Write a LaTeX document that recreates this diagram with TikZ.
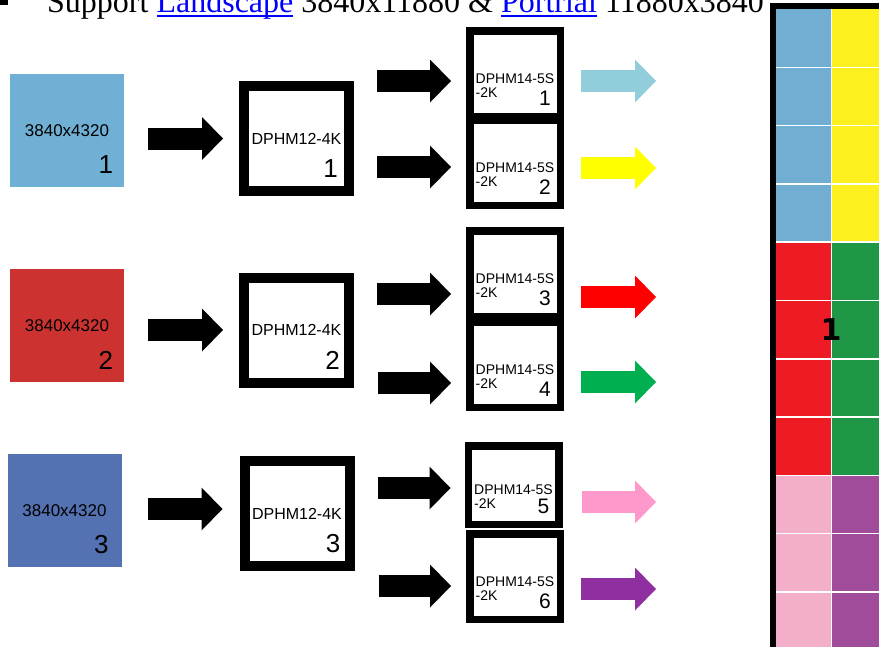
\documentclass[tikz,border=0pt]{standalone}
\usepackage{fontspec}
\setmainfont{Liberation Serif}
\setsansfont{Liberation Sans}
\newfontfamily\panelfont{DejaVu Sans}
\usepackage{tikz}
\usetikzlibrary{arrows.meta,positioning}

\definecolor{srcA}{HTML}{70B0D4}
\definecolor{srcB}{HTML}{CC3330}
\definecolor{srcC}{HTML}{5471B1}
\definecolor{outA}{HTML}{92CDDC}
\definecolor{outB}{HTML}{FFFF00}
\definecolor{outC}{HTML}{FF0000}
\definecolor{outD}{HTML}{00B050}
\definecolor{outE}{HTML}{FF99CC}
\definecolor{outF}{HTML}{9030A0}
\definecolor{cellA}{HTML}{71AED2}
\definecolor{cellB}{HTML}{FEF01E}
\definecolor{cellC}{HTML}{ED1C24}
\definecolor{cellD}{HTML}{209746}
\definecolor{cellE}{HTML}{F3AFCA}
\definecolor{cellF}{HTML}{A14B9B}
\definecolor{linkblue}{HTML}{0000FF}

\newcommand{\weblink}[1]{\textcolor{linkblue}{\setbox0=\hbox{#1}\rlap{\rule[-4.5pt]{\wd0}{1.8pt}}\box0}}

\begin{document}
\begin{tikzpicture}[x=1pt, y=-1pt,
  src/.style={rectangle, minimum width=114pt, minimum height=113pt,
    inner sep=0pt, font=\sffamily\fontsize{17}{17}\selectfont},
  hub/.style={rectangle, draw, line width=10pt, minimum size=105pt,
    inner sep=0pt, fill=white, font=\sffamily\fontsize{16}{16}\selectfont},
  split/.style={rectangle, draw, line width=7.5pt, minimum width=90.5pt,
    minimum height=85.5pt, fill=white},
  splittxt/.style={align=left, inner sep=0pt,
    font=\sffamily\fontsize{14}{14}\selectfont},
  num/.style={inner sep=0pt, font=\sffamily\fontsize{26}{26}\selectfont},
  snum/.style={inner sep=0pt, font=\sffamily\fontsize{21}{21}\selectfont},
  blk/.style={line width=22pt, -{Triangle[width=43pt, length=21pt, line width=0pt]}},
  feed/.style={blk, shorten <=17pt}
]
\useasboundingbox (0,0) rectangle (879,646);

% heading line
\node[fill, inner sep=0pt, minimum size=9pt] (bullet) at (3.5,0) {};
\node[anchor=base west, inner sep=0pt, font=\fontsize{32}{32}\selectfont] (head) at (47,12)
  {Support \weblink{Landscape} 3840x11880 \& \weblink{Portrial} 11880x3840};

% sources
\node[src, fill=srcA] (src1) at (67,130.5) {3840x4320};
\node[src, fill=srcB] (src2) at (67,325.5) {3840x4320};
\node[src, fill=srcC] (src3) at (64.5,510.5) {3840x4320};
\node[num, above left=14pt and 11pt of src1.south east] (src1n) {1};
\node[num, above left=13pt and 11pt of src2.south east] (src2n) {2};
\node[num, above left=13pt and 13pt of src3.south east] (src3n) {3};

% DPHM12-4K
\node[hub] (hub1) at (296.5,138.5) {DPHM12-4K};
\node[hub] (hub2) at (296.5,330) {DPHM12-4K};
\node[hub] (hub3) at (297,513.5) {DPHM12-4K};
\node[num, above left=18pt and 16pt of hub1.south east] (hub1n) {1};
\node[num, above left=18pt and 14pt of hub2.south east] (hub2n) {2};
\node[num, above left=18pt and 14pt of hub3.south east] (hub3n) {3};

% DPHM14-5S-2K
\node[split] (sp1) at (515,73.5) {};
\node[split] (sp2) at (515,162.5) {};
\node[split] (sp3) at (515,273.5) {};
\node[split] (sp4) at (515,364.5) {};
\node[split, minimum height=78.5pt] (sp5) at (513.5,485) {};
\node[split] (sp6) at (515,576.5) {};
\node[splittxt] (sp1t) at ([yshift=-12pt]sp1.center) {DPHM14-5S\\-2K};
\node[splittxt] (sp2t) at ([yshift=-12pt]sp2.center) {DPHM14-5S\\-2K};
\node[splittxt] (sp3t) at ([yshift=-12pt]sp3.center) {DPHM14-5S\\-2K};
\node[splittxt] (sp4t) at ([yshift=-12pt]sp4.center) {DPHM14-5S\\-2K};
\node[splittxt] (sp5t) at ([yshift=-12pt]sp5.center) {DPHM14-5S\\-2K};
\node[splittxt] (sp6t) at ([yshift=-12pt]sp6.center) {DPHM14-5S\\-2K};
\node[snum, above left=14pt and 13pt of sp1.south east] (sp1n) {1};
\node[snum, above left=14pt and 13pt of sp2.south east] (sp2n) {2};
\node[snum, above left=14pt and 13pt of sp3.south east] (sp3n) {3};
\node[snum, above left=14pt and 13pt of sp4.south east] (sp4n) {4};
\node[snum, above left=14pt and 13pt of sp5.south east] (sp5n) {5};
\node[snum, above left=14pt and 13pt of sp6.south east] (sp6n) {6};

\draw[blk, shorten <=24pt, shorten >=16pt] (src1.east |- hub1.west) -- (hub1.west);
\draw[blk, shorten <=24pt, shorten >=16pt] (src2.east |- hub2.west) -- (hub2.west);
\draw[blk, shorten <=26pt, shorten >=17pt] (src3.east |- 0,509) -- (hub3.west |- 0,509);

\draw[blk, shorten <=23pt, shorten >=15pt] (hub1.east |- 0,81) -- (sp1.west |- 0,81);
\draw[blk, shorten <=23pt, shorten >=15pt] (hub1.east |- 0,167) -- (sp2.west |- 0,167);
\draw[blk, shorten <=23pt, shorten >=15pt] (hub2.east |- 0,294) -- (sp3.west |- 0,294);
\draw[blk, shorten <=24pt, shorten >=15pt] (hub2.east |- 0,383) -- (sp4.west |- 0,383);
\draw[blk, shorten <=23pt, shorten >=14pt] (hub3.east |- 0,488) -- (sp5.west |- 0,488);
\draw[blk, shorten <=24pt, shorten >=15pt] (hub3.east |- 0,586) -- (sp6.west |- 0,586);

% outputs
\coordinate (o1) at (656,81);
\coordinate (o2) at (656,168);
\coordinate (o3) at (656,297);
\coordinate (o4) at (656,382);
\coordinate (o5) at (656,502);
\coordinate (o6) at (656,589);
\draw[feed, color=outA] (sp1.east |- o1) -- (o1);
\draw[feed, color=outB] (sp2.east |- o2) -- (o2);
\draw[feed, color=outC] (sp3.east |- o3) -- (o3);
\draw[feed, color=outD] (sp4.east |- o4) -- (o4);
\draw[feed, color=outE, shorten <=19pt] (sp5.east |- o5) -- (o5);
\draw[feed, color=outF] (sp6.east |- o6) -- (o6);

% wall
\foreach \r/\ca/\cb in {0/cellA/cellB, 1/cellA/cellB, 2/cellA/cellB, 3/cellA/cellB,
    4/cellC/cellD, 5/cellC/cellD, 6/cellC/cellD, 7/cellC/cellD,
    8/cellE/cellF, 9/cellE/cellF, 10/cellE/cellF} {
  \fill[\ca] (776,{9+58.3*\r}) rectangle (831.5,{9+58.3*(\r+1)});
  \fill[\cb] (831.5,{9+58.3*\r}) rectangle (882,{9+58.3*(\r+1)});
}
\foreach \r in {1,...,10}
  \draw[white, line width=1.5pt] (776,{9+58.3*\r}) -- (882,{9+58.3*\r});
\draw[white, line width=1.5pt] (831.5,9) -- (831.5,650);
\draw[line width=6pt] (773,650) -- (773,6) -- (882,6);
\node[font=\panelfont\bfseries\fontsize{30}{30}\selectfont] (wall) at (831,330) {1};

\end{tikzpicture}
\end{document}
